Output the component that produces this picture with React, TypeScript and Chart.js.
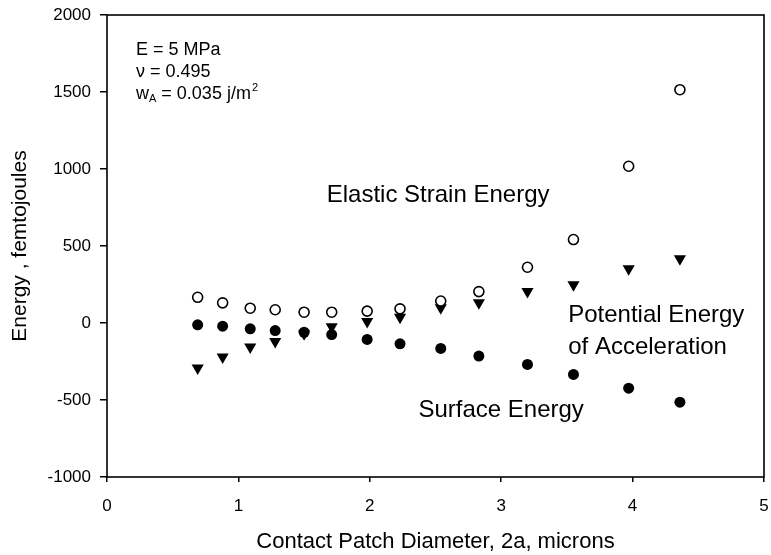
import React, { useEffect, useRef } from "react";
import { Chart, registerables } from "chart.js";

Chart.register(...registerables);

const diameter = [0.69, 0.88, 1.09, 1.28, 1.5, 1.71, 1.98, 2.23, 2.54, 2.83, 3.2, 3.55, 3.97, 4.36];
const elasticStrain = [167, 131, 96, 86, 70, 70, 77, 92, 143, 204, 362, 542, 1018, 1515];
const surfaceEnergy = [-12, -21, -38, -49, -60, -75, -107, -135, -165, -215, -269, -334, -423, -514];
const potentialEnergy = [-293, -221, -156, -120, -70, -25, 10, 38, 99, 131, 204, 248, 352, 417];

const FONT = "'Liberation Sans', Arial, Helvetica, sans-serif";

const toPoints = (ys: number[]) => diameter.map((x, i) => ({ x, y: ys[i] }));

const annotationPlugin = {
  id: "annotations",
  afterDraw(chart: any) {
    const { ctx, chartArea, scales } = chart;
    const xs = scales.x;
    const ys = scales.y;
    ctx.save();
    // frame
    ctx.strokeStyle = "#000";
    ctx.lineWidth = 1.6;
    ctx.strokeRect(chartArea.left, chartArea.top, chartArea.right - chartArea.left, chartArea.bottom - chartArea.top);

    ctx.fillStyle = "#000";
    ctx.textBaseline = "middle";
    ctx.textAlign = "left";

    // parameters
    const px = chartArea.left + 29;
    ctx.font = `18px ${FONT}`;
    ctx.fillText("E = 5 MPa", px, 50);
    ctx.fillText("\u03bd = 0.495", px, 72);
    let cx = px;
    ctx.fillText("w", cx, 94);
    cx += ctx.measureText("w").width;
    ctx.font = `11px ${FONT}`;
    ctx.fillText("A", cx, 99);
    cx += ctx.measureText("A").width;
    ctx.font = `18px ${FONT}`;
    const mid = " = 0.035 j/m";
    ctx.fillText(mid, cx, 94);
    cx += ctx.measureText(mid).width;
    ctx.font = `11px ${FONT}`;
    ctx.fillText("2", cx + 1, 88);

    // series labels
    ctx.font = `24px ${FONT}`;
    ctx.textAlign = "center";
    ctx.fillText("Elastic Strain Energy", xs.getPixelForValue(2.52), ys.getPixelForValue(827));
    ctx.textAlign = "left";
    ctx.fillText("Potential Energy", xs.getPixelForValue(3.51), ys.getPixelForValue(49));
    ctx.fillText("of Acceleration", xs.getPixelForValue(3.51), ys.getPixelForValue(-160));
    ctx.fillText("Surface Energy", xs.getPixelForValue(2.37), ys.getPixelForValue(-568));
    ctx.restore();
  },
};

export default function App() {
  const canvasRef = useRef<HTMLCanvasElement | null>(null);

  useEffect(() => {
    document.body.style.margin = "0";
    const canvas = canvasRef.current;
    if (!canvas) return;
    const chart = new Chart(canvas, {
      type: "scatter",
      data: {
        datasets: [
          {
            label: "Elastic Strain Energy",
            data: toPoints(elasticStrain),
            pointStyle: "circle",
            pointRadius: 5,
            pointBackgroundColor: "#fff",
            pointBorderColor: "#000",
            pointBorderWidth: 1.6,
          },
          {
            label: "Surface Energy",
            data: toPoints(surfaceEnergy),
            pointStyle: "circle",
            pointRadius: 5.5,
            pointBackgroundColor: "#000",
            pointBorderColor: "#000",
            pointBorderWidth: 0,
          },
          {
            label: "Potential Energy of Acceleration",
            data: toPoints(potentialEnergy),
            pointStyle: "triangle",
            pointRotation: 180,
            pointRadius: 7,
            pointBackgroundColor: "#000",
            pointBorderColor: "#000",
            pointBorderWidth: 0,
          },
        ],
      },
      options: {
        animation: false,
        responsive: false,
        maintainAspectRatio: false,
        layout: { padding: { top: 15, right: 4, left: 0, bottom: 0 } },
        plugins: {
          legend: { display: false },
          tooltip: { enabled: false },
        },
        scales: {
          x: {
            type: "linear",
            min: 0,
            max: 5,
            ticks: {
              stepSize: 1,
              color: "#000",
              font: { family: FONT, size: 17 },
              padding: 14,
              callback: (v: any) => String(v),
            },
            grid: {
              drawOnChartArea: false,
              drawTicks: true,
              tickLength: 5,
              color: "#000",
              lineWidth: 1.5,
            },
            border: { display: false },
            title: {
              display: true,
              text: "Contact Patch Diameter, 2a, microns",
              color: "#000",
              font: { family: FONT, size: 22 },
              padding: { top: 13, bottom: 0 },
            },
            afterFit(scale: any) {
              scale.height = 78;
              scale.paddingLeft = 0;
              scale.paddingRight = 0;
            },
          },
          y: {
            type: "linear",
            min: -1000,
            max: 2000,
            ticks: {
              stepSize: 500,
              color: "#000",
              font: { family: FONT, size: 17 },
              padding: 9,
              callback: (v: any) => String(v),
            },
            grid: {
              drawOnChartArea: false,
              drawTicks: true,
              tickLength: 7,
              color: "#000",
              lineWidth: 1.5,
            },
            border: { display: false },
            title: {
              display: true,
              text: "Energy , femtojoules",
              color: "#000",
              font: { family: FONT, size: 21 },
              padding: { top: 8, bottom: 0 },
            },
            afterFit(scale: any) {
              scale.width = 107;
              scale.paddingTop = 0;
              scale.paddingBottom = 0;
            },
          },
        },
      },
      plugins: [annotationPlugin],
    });
    return () => chart.destroy();
  }, []);

  return (
    <div style={{ position: "absolute", left: 0, top: 0, width: 771, height: 555 }}>
      <canvas ref={canvasRef} width={771} height={555} style={{ width: 771, height: 555 }} />
    </div>
  );
}
